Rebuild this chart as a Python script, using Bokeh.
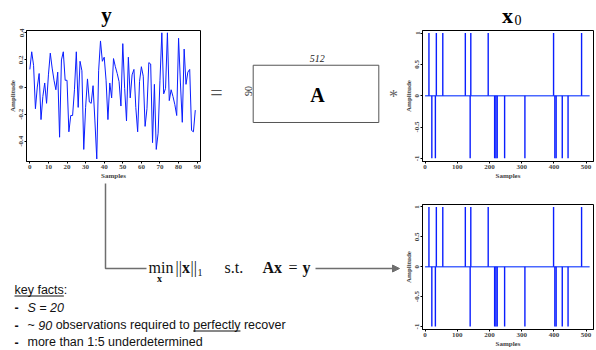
import numpy as np
from bokeh.plotting import figure
from bokeh.layouts import row, column
from bokeh.models import Range1d, FixedTicker, Arrow, NormalHead
from bokeh.core.properties import value
from bokeh.embed import file_html
from bokeh.resources import INLINE

# ---------------- data ----------------
y_samples = list(range(90))
y_values = [0.13, 0.26, 0.16, -0.16, 0.00, 0.10, -0.24, -0.07, 0.03, -0.12,
            0.09, 0.25, 0.14, 0.05, -0.02, 0.11, -0.37, 0.20, 0.26, 0.05,
            0.05, -0.33, -0.21, -0.21, -0.02, 0.26, -0.15, 0.19, 0.12, -0.46,
            -0.15, 0.06, -0.11, -0.12, 0.01, -0.25, -0.53, 0.12, 0.34, 0.19,
            0.22, 0.05, -0.24, 0.03, -0.08, 0.21, 0.15, 0.10, 0.04, -0.14,
            0.32, -0.01, -0.25, 0.22, -0.08, 0.09, 0.13, -0.15, -0.33, 0.04,
            0.15, 0.08, -0.29, -0.16, 0.18, 0.17, -0.41, 0.02, -0.46, -0.34,
            0.05, 0.40, -0.05, -0.01, 0.40, -0.10, -0.02, -0.07, -0.13, -0.21,
            0.36, 0.03, -0.26, 0.28, 0.02, 0.11, 0.13, -0.32, -0.33, -0.17]

n_coeffs = 512
x0_index = [12, 21, 32, 35, 55, 125, 140, 142, 196, 216, 220, 224, 247, 310,
            399, 403, 407, 426, 444, 486]
x0_value = [1, -1, -1, 1, 1, 1, -1, 1, 1, -1, -1, -1, -1, -1,
            1, -1, -1, -1, -1, 1]
# recovered signal (perfect recovery)
xhat_index = [12, 21, 32, 35, 55, 125, 140, 142, 196, 216, 220, 224, 247, 310,
              399, 403, 407, 426, 444, 486]
xhat_value = [1, -1, -1, 1, 1, 1, -1, 1, 1, -1, -1, -1, -1, -1,
              1, -1, -1, -1, -1, 1]

y_xticks = [0, 10, 20, 30, 40, 50, 60, 70, 80, 90]
y_xtick_labels = ["0", "10", "20", "30", "40", "50", "60", "70", "80", "90"]
y_yticks = [-0.4, -0.2, 0, 0.2, 0.4]
y_ytick_labels = ["-0.4", "-0.2", "0", "0.2", "0.4"]
x_xticks = [0, 100, 200, 300, 400, 500]
x_xtick_labels = ["0", "100", "200", "300", "400", "500"]
x_yticks = [-1, -0.5, 0, 0.5, 1]
x_ytick_labels = ["-1", "-0.5", "0", "0.5", "1"]

m_rows, n_cols = "90", "512"
# key facts: list of lines, each a list of (text, style, underlined)
facts = [
    [("S = 20", "italic", False)],
    [("~", "normal", False), ("90", "italic", False), ("observations", "normal", False),
     ("required", "normal", False), ("to", "normal", False), ("perfectly", "normal", True),
     ("recover", "normal", False)],
    [("more", "normal", False), ("than", "normal", False), ("1:5", "normal", False),
     ("underdetermined", "normal", False)],
]

SERIF = "Liberation Serif"
SANS = "Liberation Sans"
GRAY = "#6e6e6e"
BLUE = "#0a1eff"
SHIFT = 0.33  # baseline correction (em) for text glyphs


def blank(width, height, xr, yr, mb=(0, 0, 0, 0)):
    p = figure(width=width, height=height, x_range=Range1d(*xr), y_range=Range1d(*yr),
               output_backend="svg", toolbar_location=None, x_axis_type=None, y_axis_type=None,
               min_border_left=mb[0], min_border_right=mb[1],
               min_border_top=mb[2], min_border_bottom=mb[3])
    p.outline_line_color = None
    p.grid.visible = False
    p.background_fill_color = "white"
    p.border_fill_color = "white"
    return p


def t(fig, x, y, s, size, style="normal", font=SERIF, color="#111111", align="left", rotated=False):
    px = float(size.replace("px", ""))
    if rotated:
        fig.text(x=[x - SHIFT * px], y=[y], text=[s], text_font=value(font), text_font_size=size,
                 text_font_style=style, text_color=color, text_align=align,
                 text_baseline="alphabetic", angle=np.pi / 2)
    else:
        fig.text(x=[x], y=[y - SHIFT * px], text=[s], text_font=value(font), text_font_size=size,
                 text_font_style=style, text_color=color, text_align=align,
                 text_baseline="alphabetic")


def small_plot(width, height, xr, yr, mb, xt, xtl, yt, ytl):
    p = figure(width=width, height=height, x_range=Range1d(*xr), y_range=Range1d(*yr),
               output_backend="svg", toolbar_location=None,
               min_border_left=mb[0], min_border_right=mb[1],
               min_border_top=mb[2], min_border_bottom=mb[3])
    p.grid.visible = False
    p.outline_line_color = "black"
    p.outline_line_width = 1
    p.background_fill_color = "white"
    p.border_fill_color = "white"
    p.xaxis.ticker = FixedTicker(ticks=xt)
    p.xaxis.major_label_overrides = dict(zip(xt, xtl))
    p.yaxis.ticker = FixedTicker(ticks=yt)
    p.yaxis.major_label_overrides = dict(zip(yt, ytl))
    p.xaxis.axis_label = "Samples"
    p.yaxis.axis_label = "Amplitude"
    for ax in list(p.xaxis) + list(p.yaxis):
        ax.major_label_text_font = SERIF
        ax.major_label_text_font_style = "bold"
        ax.major_label_text_font_size = "7px"
        ax.axis_label_text_font = SERIF
        ax.axis_label_text_font_style = "bold"
        ax.axis_label_text_font_size = "7px"
        ax.major_tick_out = 2
        ax.major_tick_in = 0
        ax.minor_tick_out = 0
        ax.minor_tick_in = 0
        ax.major_label_standoff = 1
        ax.axis_label_standoff = 0
        ax.axis_line_color = "black"
        ax.major_tick_line_color = "black"
    p.yaxis.major_label_orientation = "vertical"
    return p


# ---------- title strip ----------
ft = blank(596, 28, (0, 596), (28, 0))
t(ft, 106, 21.3, "y", "21px", "bold", align="center", color="black")
t(ft, 507, 22.6, "x", "22px", "bold", align="center", color="black")
t(ft, 514, 24.3, "0", "14px", color="black")

# ---------- y plot ----------
fy = small_plot(208, 154, (-1.8, 91.8), (-0.549, 0.417), (26, 8, 2, 20),
                y_xticks, y_xtick_labels, y_yticks, y_ytick_labels)
fy.line(y_samples, y_values, line_color=BLUE, line_width=1)


# ---------- x0 / recovered plots ----------
def sparse_plot(height, mb, idx, vals):
    p = small_plot(196, height, (-8, 523), (-1.05, 1.04), mb,
                   x_xticks, x_xtick_labels, x_yticks, x_ytick_labels)
    p.line([0, n_coeffs - 1], [0, 0], line_color="#4a68ff", line_width=1.6)
    p.segment(x0=idx, y0=[0] * len(idx), x1=idx, y1=vals, line_color=BLUE, line_width=1.4)
    return p


fx0 = sparse_plot(154, (22, 3, 2, 20), x0_index, x0_value)
fxh = sparse_plot(168, (22, 3, 22, 19), xhat_index, xhat_value)

# ---------- middle (matrix A), frame = 30..162 like neighbours ----------
fm = blank(192, 154, (208, 400), (162, 30), (0, 0, 2, 20))
fm.quad(left=[252.7], right=[378.3], top=[65], bottom=[122.7], fill_color=None,
        line_color="#555555", line_width=1)
t(fm, 216, 99.5, "=", "22px", color="#555555", align="center")
t(fm, 317, 101.7, "A", "20px", "bold", color="black", align="center")
t(fm, 316.7, 61.7, n_cols, "10px", "italic", color="#222222", align="center")
t(fm, 251, 91, m_rows, "10px", color="#222222", align="center", rotated=True)
t(fm, 393, 103, "*", "18px", color="#666666", align="center")

# ---------- bottom-left (optimisation + key facts) ----------
fb = blank(400, 168, (0, 400), (350, 182))
fb.line([105, 105, 146], [183, 268, 268], line_color=GRAY, line_width=1.5)
fb.add_layout(Arrow(end=NormalHead(size=7, fill_color=GRAY, line_color=GRAY),
                    x_start=315, y_start=268, x_end=399, y_end=268,
                    line_color=GRAY, line_width=1.5))

# formula
t(fb, 148, 272, "min", "16px")
t(fb, 159, 281, "x", "10px", "bold", align="center")
t(fb, 175, 272, "||", "16px")
t(fb, 181.5, 272, "x", "16px", "bold")
t(fb, 190, 272, "||", "16px")
t(fb, 197, 275, "1", "10px")
t(fb, 224, 272, "s.t.", "16px")
t(fb, 262, 272, "A", "16px", "bold")
t(fb, 273.6, 272, "x", "16px", "bold")
t(fb, 288, 272, "=", "16px")
t(fb, 302, 272, "y", "16px", "bold")

# key facts text (Arial metrics for layout)
W = {' ': 278, '~': 584, '0': 556, '1': 556, '2': 556, '5': 556, '9': 556, ':': 278,
     '-': 333, '=': 584, 'S': 667, 'a': 556, 'b': 556, 'c': 500, 'd': 556, 'e': 556,
     'f': 278, 'h': 556, 'i': 222, 'k': 500, 'l': 222, 'm': 833, 'n': 556, 'o': 556,
     'p': 556, 'q': 556, 'r': 333, 's': 500, 't': 278, 'u': 556, 'v': 500, 'y': 500}
FS = 12.5


def w(s):
    return sum(W.get(c, 556) for c in s) * FS / 1000.0


fs = "12.5px"
TXT = "#111111"
base = [294, 311.5, 329, 346]
x_dash, x_txt = 14, 27
# heading
t(fb, x_dash, base[0], "key facts", fs, font=SANS, color=TXT)
t(fb, x_dash + w("key facts"), base[0], ":", fs, font=SANS, color=TXT)
fb.segment(x0=[x_dash], y0=[base[0] + 1.5], x1=[x_dash + w("key facts")], y1=[base[0] + 1.5],
           line_color=TXT, line_width=1)
# bullet lines
for line, b in zip(facts, base[1:]):
    t(fb, x_dash, b, "-", fs, "bold", font=SANS, color=TXT)
    xx = x_txt
    for k, (word, style, under) in enumerate(line):
        if k > 0:
            xx += w(" ")
        t(fb, xx, b, word, fs, style, font=SANS, color=TXT)
        if under:
            fb.segment(x0=[xx], y0=[b + 1.5], x1=[xx + w(word)], y1=[b + 1.5],
                       line_color=TXT, line_width=1)
        xx += w(word)

layout = column(ft, row(fy, fm, fx0), row(column(fb), fxh))
open("out.html", "w").write(file_html(layout, INLINE))
